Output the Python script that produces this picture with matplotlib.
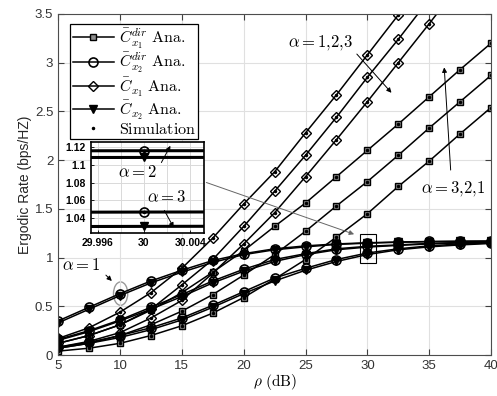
import numpy as np
import matplotlib
matplotlib.use("Agg")
import matplotlib.pyplot as plt
from matplotlib.patches import Ellipse, Rectangle
from matplotlib.lines import Line2D

plt.rcParams['mathtext.fontset'] = 'cm'
plt.rcParams['font.family'] = 'Liberation Sans'
plt.rcParams['xtick.direction'] = 'in'
plt.rcParams['ytick.direction'] = 'in'

# SNR in dB
rho = [5, 7.5, 10, 12.5, 15, 17.5, 20, 22.5, 25, 27.5, 30, 32.5, 35, 37.5, 40]

# C_x1 Ana. (diamond), alpha = 1, 2, 3
cx1_a1 = [0.17, 0.28, 0.44, 0.64, 0.89, 1.20, 1.55, 1.88, 2.28, 2.67, 3.08, 3.49, 3.90, 4.31, 4.72]
cx1_a2 = [0.12, 0.20, 0.31, 0.47, 0.72, 0.98, 1.32, 1.68, 2.05, 2.44, 2.85, 3.24, 3.65, 4.06, 4.47]
cx1_a3 = [0.08, 0.14, 0.23, 0.38, 0.56, 0.84, 1.14, 1.46, 1.83, 2.21, 2.60, 3.00, 3.40, 3.81, 4.22]

# C^dir_x1 Ana. (square)
dx1_a1 = [0.12, 0.20, 0.31, 0.46, 0.64, 0.85, 1.07, 1.32, 1.56, 1.83, 2.10, 2.37, 2.65, 2.93, 3.20]
dx1_a2 = [0.07, 0.12, 0.20, 0.31, 0.45, 0.62, 0.82, 1.03, 1.27, 1.53, 1.78, 2.05, 2.33, 2.60, 2.87]
dx1_a3 = [0.04, 0.07, 0.12, 0.20, 0.30, 0.43, 0.59, 0.78, 0.98, 1.21, 1.45, 1.73, 1.99, 2.27, 2.54]

# C^dir_x2 Ana. (circle)
dx2_a1 = [0.35, 0.49, 0.63, 0.76, 0.87, 0.97, 1.04, 1.09, 1.12, 1.14, 1.152, 1.16, 1.165, 1.168, 1.17]
dx2_a2 = [0.16, 0.25, 0.36, 0.49, 0.62, 0.76, 0.88, 0.98, 1.04, 1.09, 1.1155, 1.13, 1.145, 1.155, 1.162]
dx2_a3 = [0.08, 0.13, 0.20, 0.28, 0.38, 0.51, 0.65, 0.79, 0.89, 0.98, 1.047, 1.09, 1.12, 1.14, 1.15]

# C_x2 Ana. (triangle)
cx2_a1 = [0.33, 0.47, 0.61, 0.74, 0.85, 0.95, 1.03, 1.08, 1.11, 1.135, 1.148, 1.157, 1.163, 1.166, 1.168]
cx2_a2 = [0.15, 0.24, 0.35, 0.47, 0.60, 0.74, 0.86, 0.96, 1.03, 1.08, 1.108, 1.125, 1.14, 1.15, 1.16]
cx2_a3 = [0.07, 0.12, 0.18, 0.26, 0.36, 0.49, 0.63, 0.76, 0.87, 0.96, 1.031, 1.08, 1.11, 1.13, 1.145]

labels = [r"$\bar{C}^{dir}_{x_1}\ \mathrm{Ana.}$", r"$\bar{C}^{dir}_{x_2}\ \mathrm{Ana.}$",
          r"$\bar{C}_{x_1}\ \mathrm{Ana.}$", r"$\bar{C}_{x_2}\ \mathrm{Ana.}$",
          r"$\mathrm{Simulation}$"]

groups = [
    ([dx1_a1, dx1_a2, dx1_a3], dict(marker='s', ms=4.2, mfc='0.55', mec='k')),
    ([dx2_a1, dx2_a2, dx2_a3], dict(marker='o', ms=6.5, mfc='none', mec='k', mew=1.2)),
    ([cx1_a1, cx1_a2, cx1_a3], dict(marker='D', ms=5.5, mfc='none', mec='k', mew=1.0)),
    ([cx2_a1, cx2_a2, cx2_a3], dict(marker='v', ms=5.5, mfc='k', mec='k')),
]


def draw(ax, lw):
    for series, style in groups:
        for s in series:
            ax.plot(rho, s, color='k', lw=lw, **style)
            ax.plot(rho, s, '.', color='k', ms=3)


fig = plt.figure(figsize=(4.97, 3.96), dpi=100)
ax = fig.add_axes([0.117, 0.1035, 0.871, 0.8612])
draw(ax, 1.1)

ax.set_xlim(5, 40)
ax.set_ylim(0, 3.5)
ax.set_xticks(np.arange(5, 41, 5))
ax.set_yticks(np.arange(0, 3.6, 0.5))
ax.set_yticklabels(['0', '0.5', '1', '1.5', '2', '2.5', '3', '3.5'])
ax.tick_params(labelsize=9.5, top=True, right=True, colors='0.25', labelcolor='0.2', length=4)
ax.grid(color='0.88', lw=0.8)
for sp in ax.spines.values():
    sp.set_color('0.3')
ax.set_ylabel('Ergodic Rate (bps/HZ)', fontsize=10, color='0.15', labelpad=2)
ax.set_xlabel(r'$\rho\ \mathrm{(dB)}$', fontsize=11, labelpad=0)

# legend
handles = [Line2D([], [], color='k', lw=1.1, **groups[i][1]) for i in range(4)]
handles.append(Line2D([], [], ls='none', marker='.', color='k', ms=3))
leg = ax.legend(handles, labels, loc='upper left', bbox_to_anchor=(0.028, 0.971),
                borderaxespad=0, fontsize=11.5, handlelength=2.6, labelspacing=0.0,
                borderpad=0.15, handletextpad=0.3, fancybox=False, edgecolor='k',
                framealpha=1)
leg.get_frame().set_linewidth(0.9)
leg.set_zorder(10)

# annotations
ax.add_patch(Ellipse((10.05, 0.63), 1.15, 0.24, fill=False, ec='0.6', lw=1))
ax.text(6.9, 0.92, r'$\alpha = 1$', fontsize=12, ha='center', va='center')
ax.annotate('', xy=(9.5, 0.74), xytext=(8.7, 0.84),
            arrowprops=dict(arrowstyle='-|>', color='k', lw=0.7, mutation_scale=7))
ax.add_patch(Rectangle((29.41, 0.94), 1.26, 0.30, fill=False, ec='k', lw=0.8, zorder=5))
ax.annotate('', xy=(29.14, 1.23), xytext=(16.77, 1.78),
            arrowprops=dict(arrowstyle='-|>', color='0.4', lw=0.7, mutation_scale=7))
ax.text(26.2, 3.21, r'$\alpha = 1{,}2{,}3$', fontsize=12, ha='center', va='center')
ax.annotate('', xy=(32.1, 2.67), xytext=(29.0, 3.11),
            arrowprops=dict(arrowstyle='-|>', color='k', lw=0.7, mutation_scale=7))
ax.text(36.9, 1.71, r'$\alpha = 3{,}2{,}1$', fontsize=12, ha='center', va='center')
ax.annotate('', xy=(36.2, 2.98), xytext=(36.75, 1.87),
            arrowprops=dict(arrowstyle='-|>', color='k', lw=0.7, mutation_scale=7))

# inset
axin = fig.add_axes([0.1825, 0.4116, 0.228, 0.2306])
draw(axin, 2.2)
axin.set_xlim(29.9954, 30.0052)
axin.set_ylim(1.0236, 1.1256)
axin.set_xticks([29.996, 30, 30.004])
axin.set_xticklabels(['29.996', '30', '30.004'])
axin.set_xticks([29.998, 30.002], minor=True)
axin.set_yticks([1.04, 1.06, 1.08, 1.1, 1.12])
axin.set_yticklabels(['1.04', '1.06', '1.08', '1.1', '1.12'])
axin.tick_params(labelsize=7.5, length=2, width=0.6)
for lab in axin.get_xticklabels() + axin.get_yticklabels():
    lab.set_fontweight('bold')
axin.tick_params(which='minor', length=0)
axin.grid(which='both', color='0.85', lw=0.7)
for sp in axin.spines.values():
    sp.set_linewidth(1.2)
axin.text(0.409, 0.668, r'$\alpha = 2$', fontsize=12, ha='center', va='center',
          transform=axin.transAxes)
axin.annotate('', xy=(0.715, 0.982), xytext=(0.612, 0.745), xycoords='axes fraction',
              textcoords='axes fraction',
              arrowprops=dict(arrowstyle='-|>', color='k', lw=0.7, mutation_scale=7))
axin.text(0.673, 0.394, r'$\alpha = 3$', fontsize=12, ha='center', va='center',
          transform=axin.transAxes)
axin.annotate('', xy=(0.744, 0.033), xytext=(0.638, 0.274), xycoords='axes fraction',
              textcoords='axes fraction',
              arrowprops=dict(arrowstyle='-|>', color='k', lw=0.7, mutation_scale=7))

plt.savefig('out.png', dpi=100)
